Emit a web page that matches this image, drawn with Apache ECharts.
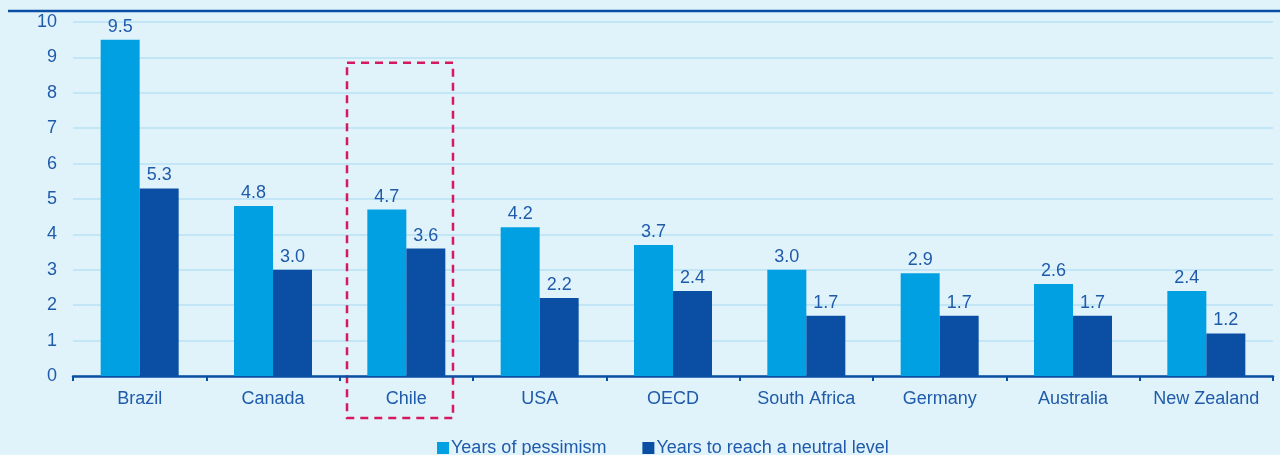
<!DOCTYPE html>
<html><head><meta charset="utf-8">
<script src="https://cdn.jsdelivr.net/npm/echarts@6/dist/echarts.min.js"></script>
<style>html,body{margin:0;padding:0;background:#E0F3FB;}#c{width:1280px;height:455px;}</style>
</head><body><div id="c"></div>
<script>
const categories = ['Brazil','Canada','Chile','USA','OECD','South Africa','Germany','Australia','New Zealand'];
const pessimism = [9.5,4.8,4.7,4.2,3.7,3.0,2.9,2.6,2.4];
const neutral = [5.3,3.0,3.6,2.2,2.4,1.7,1.7,1.7,1.2];
const seriesNames = ['Years of pessimism','Years to reach a neutral level'];
const highlight = 'Chile';

const txt = '#1F5BAA';
const fs = 18;
const chart = echarts.init(document.getElementById('c'), null, {renderer:'canvas'});
const labelCfg = {show:true, position:'top', distance:4, color:txt, fontSize:fs, fontFamily:'Liberation Sans, Arial, sans-serif', formatter: p => p.value.toFixed(1)};
chart.setOption({
  backgroundColor:'#E0F3FB',
  animation:false,
  textStyle:{fontFamily:'Liberation Sans, Arial, sans-serif'},
  grid:{left:73, right:7, top:22, bottom:79},
  legend:{top:434, left:432, itemWidth:12, itemHeight:12, itemGap:36, icon:'rect',
    textStyle:{color:txt, fontSize:fs, padding:[0,0,0,-3]}, data:seriesNames},
  xAxis:{type:'category', data:categories,
    axisLine:{lineStyle:{color:'#0A4FA3', width:2.5}},
    axisTick:{show:true, interval:0, length:5, lineStyle:{color:'#0A4FA3', width:2}},
    axisLabel:{color:txt, fontSize:fs, margin:14, interval:0}},
  yAxis:{type:'value', min:0, max:10, interval:1,
    axisLine:{show:false}, axisTick:{show:false},
    axisLabel:{color:txt, fontSize:fs, margin:16},
    splitLine:{lineStyle:{color:'#C2E6F6', width:2}}},
  series:[
    {name:seriesNames[0], type:'bar', data:pessimism, barWidth:39, barGap:'0%', itemStyle:{color:'#00A0E3'}, label:labelCfg},
    {name:seriesNames[1], type:'bar', data:neutral, barWidth:39, itemStyle:{color:'#0A4FA3'}, label:labelCfg}
  ]
});
function addGraphics(){
  const c = chart.convertToPixel({xAxisIndex:0}, highlight);
  const c2 = chart.convertToPixel({xAxisIndex:0}, categories[1]);
  const bw = Math.abs(c - c2);
  const topY = chart.convertToPixel({yAxisIndex:0}, 8.85);
  const baseY = chart.convertToPixel({yAxisIndex:0}, 0);
  chart.setOption({graphic:[
    {type:'line', shape:{x1:8, y1:11, x2:1280, y2:11}, style:{stroke:'#0A4FA3', lineWidth:2.5}},
    {type:'rect', shape:{x:c - bw*0.445, y:topY, width:bw*0.795, height:(baseY - topY) + 42},
     style:{fill:'none', stroke:'#D6185E', lineWidth:2.5, lineDash:[8,6]}}
  ]});
}
addGraphics();
</script></body></html>
